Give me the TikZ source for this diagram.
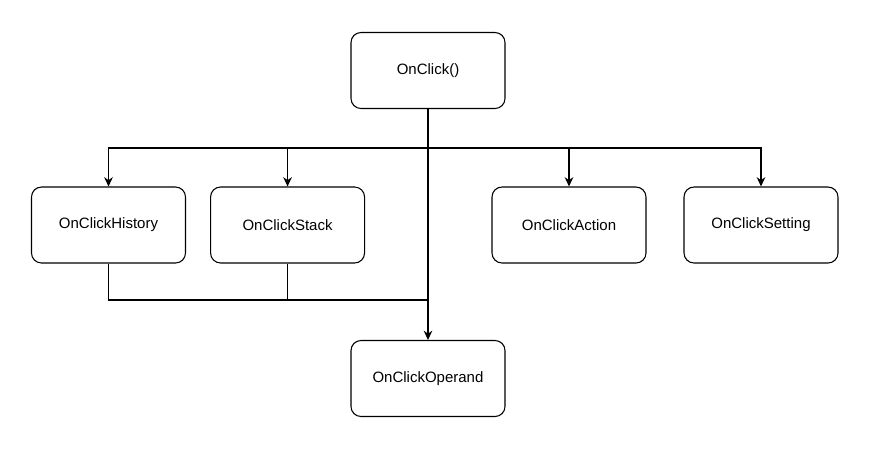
\documentclass[tikz,border=0pt]{standalone}
\usepackage{fontspec}
\setmainfont{Liberation Sans}
\usetikzlibrary{arrows.meta, positioning, calc}

\begin{document}
\begin{tikzpicture}[
        x=0.75pt, y=-0.75pt,
        node distance=18pt,
        box/.style={draw, rectangle, rounded corners=7.5pt, minimum width=115.5pt, minimum height=57pt, align=center, line width=0.8pt, font=\fontsize{11.25}{13.5}\selectfont},
        arrow/.style={-{Stealth[length=7pt, width=6.5pt]}, line width=0.8pt},
        link/.style={line width=0.8pt}
    ]
        \useasboundingbox (0,0) rectangle (886,451);

        % Top: handler
        \node[box] (onclick) at (428,70.5) {OnClick()};

        % Middle row
        \node[box] (history) at (108.5,225) {OnClickHistory};
        \node[box, right=of history] (stack) {OnClickStack};
        \node[box] (action) at (569,225) {OnClickAction};
        \node[box] (setting) at (761,225) {OnClickSetting};

        % Bottom
        \node[box] (operand) at (428,378.5) {OnClickOperand};

        % Split and merge points
        \coordinate (split) at (428,148);
        \coordinate (merge) at (428,300);

        % Fan out
        \draw[arrow] (onclick.south) -- (operand.north);
        \draw[arrow] (split) -| (history.north);
        \draw[arrow] (split) -| (stack.north);
        \draw[arrow] (split) -| (action.north);
        \draw[arrow] (split) -| (setting.north);

        % Back into operand
        \draw[link] (history.south) |- (merge);
        \draw[link] (stack.south) -- (stack.south |- merge);
    \end{tikzpicture}
\end{document}
